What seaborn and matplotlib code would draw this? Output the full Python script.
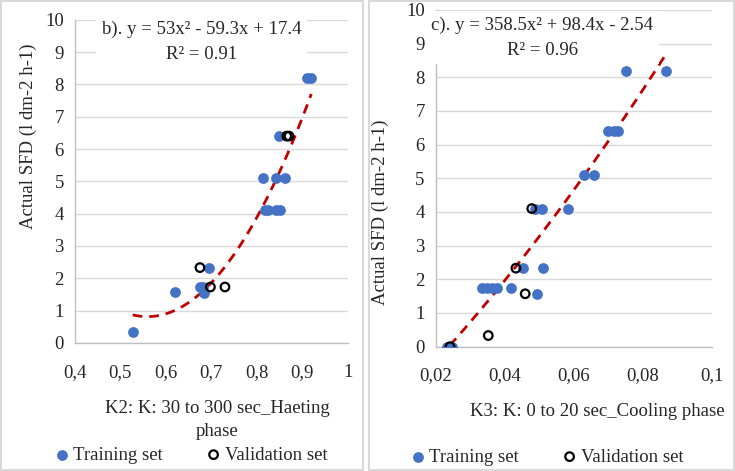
import numpy as np
import pandas as pd
import seaborn as sns
import matplotlib.pyplot as plt
from matplotlib.patches import Rectangle

# panel b) K2 heating phase
k2_train_x = [0.527, 0.620, 0.675, 0.682, 0.684, 0.695, 0.818, 0.824, 0.842, 0.851,
              0.813, 0.842, 0.862, 0.848, 0.910, 0.920]
k2_train_y = [0.33, 1.57, 1.73, 1.73, 1.55, 2.33, 4.1, 4.1, 4.1, 4.1,
              5.1, 5.1, 5.1, 6.4, 8.2, 8.2]
k2_val_x = [0.675, 0.698, 0.730, 0.866, 0.871]
k2_val_y = [2.33, 1.73, 1.73, 6.4, 6.4]
k2_coef = [53, -59.3, 17.4]
k2_range = [0.527, 0.92]

# panel c) K3 cooling phase
k3_train_x = [0.0232, 0.0237, 0.0241, 0.0246, 0.0333, 0.0347, 0.0362, 0.0377, 0.0417,
              0.0494, 0.0454, 0.0510, 0.0488, 0.0507, 0.0584, 0.0628, 0.0657,
              0.0700, 0.0715, 0.0729, 0.0752, 0.0868]
k3_train_y = [0, 0, 0, 0, 1.73, 1.73, 1.73, 1.73, 1.73,
              1.57, 2.33, 2.33, 4.1, 4.1, 4.1, 5.1, 5.1,
              6.4, 6.4, 6.4, 8.2, 8.2]
k3_val_x = [0.0241, 0.0352, 0.0432, 0.0459, 0.0478]
k3_val_y = [0, 0.33, 2.33, 1.57, 4.1]
k3_coef = [358.5, 98.4, -2.54]
k3_range = [0.024, 0.087]

sns.set_style("white")
plt.rcParams['font.family'] = ['Liberation Serif', 'DejaVu Serif']
plt.rcParams['font.size'] = 13.5

BLUE = '#4472C4'
RED = '#C00000'
GRID = '#D9D9D9'
AXIS = '#BFBFBF'


def draw_panel(ax, tx, ty, vx, vy, coef, xr, xlim, xticks, xticklabels, eq):
    train = pd.DataFrame({'x': tx, 'y': ty})
    val = pd.DataFrame({'x': vx, 'y': vy})
    xs = np.linspace(xr[0], xr[1], 100)
    fit = pd.DataFrame({'x': xs, 'y': np.polyval(coef, xs)})

    sns.scatterplot(data=train, x='x', y='y', ax=ax, color=BLUE, s=60,
                    edgecolor=BLUE, linewidth=0, label='Training set', zorder=3)
    sns.scatterplot(data=val, x='x', y='y', ax=ax, facecolor='none', s=38,
                    edgecolor='black', linewidth=1.6, label='Validation set', zorder=4)
    sns.lineplot(data=fit, x='x', y='y', ax=ax, color=RED, linewidth=2,
                 legend=False, zorder=2)
    ax.lines[-1].set_linestyle((0, (3.5, 2.5)))

    ax.set_xlim(xlim)
    ax.set_ylim(0, 10)
    ax.set_xticks(xticks)
    ax.set_xticklabels(xticklabels)
    ax.set_yticks(range(0, 11))
    ax.yaxis.grid(True, color=GRID, linewidth=1)
    ax.xaxis.grid(False)
    ax.set_axisbelow(True)
    for s in ['top', 'right']:
        ax.spines[s].set_visible(False)
    for s in ['left', 'bottom']:
        ax.spines[s].set_color(AXIS)
        ax.spines[s].set_linewidth(1)
    ax.tick_params(axis='x', direction='out', length=5, color=AXIS, pad=10)
    ax.tick_params(axis='y', length=0, pad=8)
    ax.set_xlabel('')
    ax.set_ylabel('Actual SFD (l dm-2 h-1)')
    ax.get_legend().remove()
    ax.text(eq[0], eq[1], eq[2], transform=ax.transAxes, ha='center', va='top',
            linespacing=1.6, zorder=6, clip_on=False,
            bbox=dict(facecolor='white', edgecolor='none', pad=4))


fig = plt.figure(figsize=(7.35, 4.71), dpi=100)
fig.patches.append(Rectangle((0.002, 0.002), 0.492, 0.995, transform=fig.transFigure,
                             fill=False, edgecolor=GRID, linewidth=1.5))
fig.patches.append(Rectangle((0.502, 0.002), 0.496, 0.995, transform=fig.transFigure,
                             fill=False, edgecolor=GRID, linewidth=1.5))

ax1 = fig.add_axes([0.102, 0.272, 0.371, 0.686])
draw_panel(ax1, k2_train_x, k2_train_y, k2_val_x, k2_val_y, k2_coef, k2_range,
           (0.4, 1.0), [0.4, 0.5, 0.6, 0.7, 0.8, 0.9, 1.0],
           ['0,4', '0,5', '0,6', '0,7', '0,8', '0,9', '1'],
           (0.465, 0.998, 'b). y = 53x² - 59.3x + 17.4\nR² = 0.91'))
ax1.yaxis.set_label_coords(-0.14, 0.64)

ax2 = fig.add_axes([0.593, 0.264, 0.3755, 0.715])
draw_panel(ax2, k3_train_x, k3_train_y, k3_val_x, k3_val_y, k3_coef, k3_range,
           (0.02, 0.1), [0.02, 0.04, 0.06, 0.08, 0.1],
           ['0,02', '0,04', '0,06', '0,08', '0,1'],
           (0.385, 0.98, 'c). y = 358.5x² + 98.4x - 2.54\nR² = 0.96'))
ax2.yaxis.set_label_coords(-0.17, 0.40)

fig.text(217 / 735, 1 - 420 / 471, 'K2: K: 30 to 300 sec_Haeting\nphase',
         ha='center', va='center', linespacing=1.5)
fig.text(597 / 735, 1 - 412 / 471, 'K3: K: 0 to 20 sec_Cooling phase',
         ha='center', va='center')

h, l = ax1.get_legend_handles_labels()
fig.legend(h, l, loc='center', bbox_to_anchor=(190 / 735, 1 - 455 / 471), ncol=2,
           frameon=False, columnspacing=2.2, handletextpad=0.1, markerscale=1.0,
           handlelength=1.0)
fig.legend(h, l, loc='center', bbox_to_anchor=(546 / 735, 1 - 457 / 471), ncol=2,
           frameon=False, columnspacing=2.2, handletextpad=0.1, markerscale=1.0,
           handlelength=1.0)

fig.savefig('out.png', dpi=100)
